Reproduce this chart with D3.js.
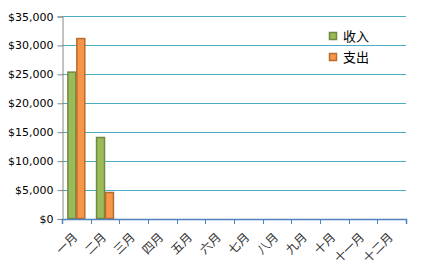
<!DOCTYPE html>
<html>
<head>
<meta charset="utf-8">
<script src="https://cdn.jsdelivr.net/npm/d3@7"></script>
<style>
  body { margin: 0; background: #fff; }
  svg { display: block; }
</style>
</head>
<body>
<svg width="422" height="268"></svg>
<script>
var months = ['一月','二月','三月','四月','五月','六月','七月','八月','九月','十月','十一月','十二月'];
var seriesNames = ['收入', '支出'];
var income = [25300, 14000, null, null, null, null, null, null, null, null, null, null];
var expense = [31100, 4500, null, null, null, null, null, null, null, null, null, null];
var yTicks = [0, 5000, 10000, 15000, 20000, 25000, 30000, 35000];

var fills = ['#9bbb59', '#f79646'];
var strokes = ['#71893f', '#b66d31'];

function drawChart(){
  var svg = d3.select('svg');
  var left = 62, right = 406, plotTop = 16, bottom = 218.5;

  var x = d3.scaleBand().domain(months).range([left, right]).paddingInner(0).paddingOuter(0);
  var y = d3.scaleLinear().domain([0, 35000]).range([bottom, plotTop]);
  var inner = d3.scaleBand().domain(seriesNames).range([0, x.bandwidth()]).paddingInner(0).paddingOuter(0.6);

  // grid lines
  svg.append('g').selectAll('line')
    .data(yTicks.slice(1))
    .enter().append('line')
    .attr('x1', left).attr('x2', right)
    .attr('y1', function(d){ return Math.round(y(d)) + 0.5; })
    .attr('y2', function(d){ return Math.round(y(d)) + 0.5; })
    .attr('stroke', '#4bacc6')
    .attr('stroke-width', 1);

  // y axis
  var yAxis = d3.axisLeft(y).tickValues(yTicks).tickSize(5).tickPadding(4)
    .tickFormat(function(d){ return '$' + d3.format(',')(d); });
  var gy = svg.append('g').attr('transform', 'translate(' + (left + 0.5) + ',0.5)').call(yAxis);
  gy.select('.domain').attr('stroke', '#868686');
  gy.selectAll('.tick line').attr('stroke', '#868686');
  gy.selectAll('.tick text')
    .style('font-family', 'DejaVu Sans, sans-serif')
    .style('font-size', '11px')
    .attr('fill', '#000');

  // bars
  var series = [income, expense];
  series.forEach(function(vals, si){
    svg.append('g').selectAll('rect')
      .data(vals.map(function(v, i){ return {m: months[i], v: v}; }).filter(function(d){ return d.v != null; }))
      .enter().append('rect')
      .attr('x', function(d){ return x(d.m) + inner(seriesNames[si]) + 0.5; })
      .attr('y', function(d){ return y(d.v); })
      .attr('width', inner.bandwidth() - 1)
      .attr('height', function(d){ return bottom - y(d.v); })
      .attr('fill', fills[si])
      .attr('stroke', strokes[si])
      .attr('stroke-width', 1.5);
  });

  // x axis
  var xAxis = d3.axisBottom(x).tickSize(5).tickSizeOuter(5).tickFormat('');
  var gx = svg.append('g').attr('transform', 'translate(0,' + (bottom + 0.5) + ')').call(xAxis);
  gx.selectAll('.tick').remove();
  gx.select('.domain').attr('stroke', '#4f81bd').attr('stroke-width', 1.5);
  gx.selectAll('.xt').data(d3.range(months.length + 1)).enter().append('line')
    .attr('x1', function(i){ return Math.round(left + i * x.step()) + 0.5; })
    .attr('x2', function(i){ return Math.round(left + i * x.step()) + 0.5; })
    .attr('y1', 0).attr('y2', 5)
    .attr('stroke', '#4f81bd');

  gx.selectAll('.lbl').data(months).enter().append('text')
    .attr('transform', function(d){
      return 'translate(' + (x(d) + x.bandwidth() / 2 + 2) + ',19) rotate(-45)';
    })
    .attr('text-anchor', 'end')
    .attr('fill', '#333')
    .style('font-family', 'Noto Sans CJK SC, sans-serif')
    .style('font-size', '12px')
    .text(function(d){ return d; });

  // legend
  var legend = svg.append('g').attr('transform', 'translate(329,0)');
  seriesNames.forEach(function(n, i){
    var cy = 36 + i * 21;
    legend.append('rect')
      .attr('x', 0.5).attr('y', cy - 3.5)
      .attr('width', 7).attr('height', 7)
      .attr('fill', fills[i]).attr('stroke', strokes[i]).attr('stroke-width', 1.5);
    legend.append('text')
      .attr('x', 14).attr('y', cy + 4.5)
      .attr('fill', '#000')
      .style('font-family', 'Noto Sans CJK SC, sans-serif')
      .style('font-size', '13px')
      .text(n);
  });
}

drawChart();
</script>
</body>
</html>
